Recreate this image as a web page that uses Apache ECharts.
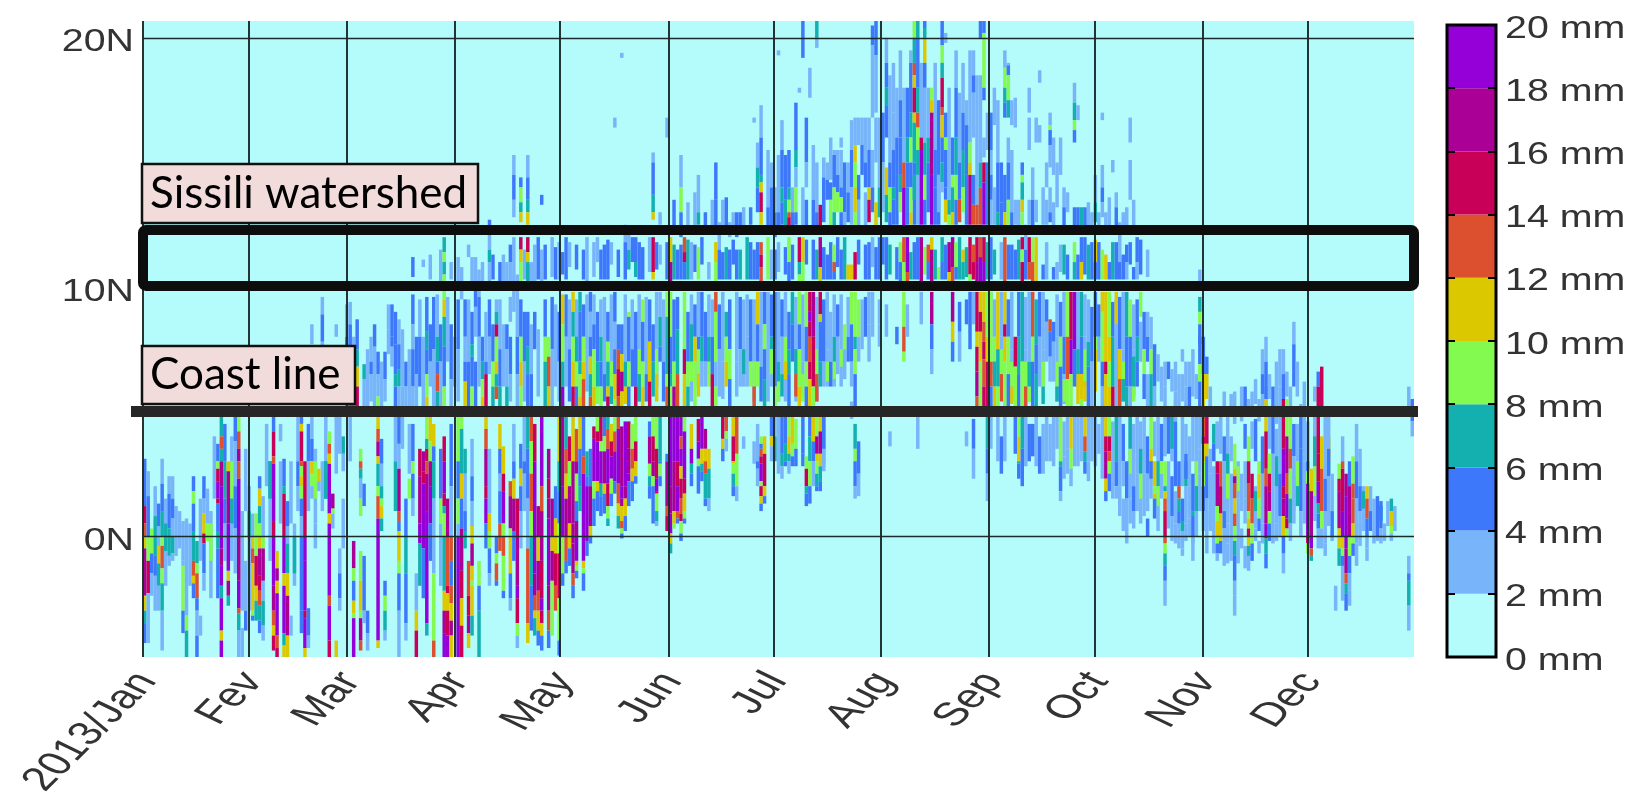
<!DOCTYPE html>
<html><head><meta charset="utf-8">
<script src="https://cdn.jsdelivr.net/npm/echarts@6/dist/echarts.min.js"></script>
<style>html,body{margin:0;padding:0;background:#fff}#c{width:1634px;height:806px}</style>
</head><body><div id="c"></div>
<script>
// Each column: [dayOfYear, topLat, mm, lat, mm, lat, ... , bottomLat]; mm is the band's mid value
const lightColsA=[
[6,1.5,3,-2],[9,1.2,3,-.8],[10,1,3,-.5],[13,.5,3,-2],[16,1.5,3,-1],[19,1,3,-2.5],[20,4,3,1.5],[25,4,3,-1],[28,1,3,-3],[29,3.5,3,1],[30,2,3,-3],[35,4.5,3,2],[36,3,5,1.5,3,-1],[39,3,3,.5],[42,3,3,.5],[43,.5,3,-2],[47,4.5,5,3,3,1],[49,3.5,3,.5,3,-.5],[51,3,3,1],[52,4.8,3,3,5,1.5],[56,4.8,3,3.3],[57,1.5,3,-.5],[59,4.8,3,3],
[60,8,3,6,5,5.2],[64,7.5,3,5.2],[66,8.5,5,7.6,3,5.2],[68,7,3,5.2],[72,4.8,3,3],[74,4.8,3,3.5],[75,7,5,6,3,5.2],[76,4.5,3,2.5],[78,8,5,6.5,3,5.2],[79,9.5,3,8,5,6],[80,8,3,5.2],[82,11.3,3,10.3],[83,9.6,5,7.5,3,5.2],[85,11.5,3,10.2],[85,8.5,5,7,3,5.2],[87,9.6,3,7],[88,11,3,10.3],[88,8.5,5,6.3,3,5.2],[89,8,3,6],[90,11.2,3,10.2],[90,9.5,5,7.5,3,5.4],[91,10.8,3,9.5],[93,9.5,3,7,5,5.2],[95,7,5,5.2],[96,10.7,3,9.6,5,8,3,6],[97,11,3,10.2],[99,9.5,5,8,3,6.5],[100,11.3,5,10.3],[102,9.5,3,7.5,5,6,7,5.2],[103,11.3,3,10.2],[103,8.5,3,6],[104,11,3,10.2],[105,8,5,6.5,3,5.4],[106,12,3,11,3,9],[107,10.5,3,8,5,6.5,3,5.2],[109,11.5,3,10.3],[109,9,5,7,3,5.4],[111,11,3,10.2],[111,8.5,3,6.5,5,5.2],[112,11.7,3,10.2],[112,9,5,7.5],[113,12,5,10.3],[113,8.3,3,5.6],[114,11.5,3,10.2],[117,12,3,10.4],[117,9.6,5,7.5,3,5.2],[118,11.6,5,10.3],[118,9.3,3,6],[119,11.8,3,10.3],[119,9,5,7,3,5.4]
];
const lightColsB=[
[121,12,5,10.3],[121,9.7,5,8,3,6],[122,11.8,3,10.8],[122,9.5,3,7.5,5,5.4],[124,11.7,5,10.7],[124,9.5,3,7,5,5.2],[126,11.5,5,10.3],[127,9.7,3,7.5,3,5.8],[130,12,3,11],[130,9,5,7,3,5.5],[132,11.7,5,10.3],[132,9.6,3,6.5,5,5.4],[134,11.8,3,10.9],[134,9.7,3,7,3,5.4],[138,9.7,3,7,3,5.4],[140,12,5,11],[140,9.5,3,7.5,5,6],[142,11.8,5,10.3],[142,9.7,3,7.5,3,5.4],[144,9.6,3,6.5,5,5.4],[147,11.8,5,10.7],[147,9.8,3,7.5,3,6],[148,13,3,12.5],[148,11.7,3,10.9],[149,9.5,3,7,5,5.4],
[150,11.8,5,10.3],[152,13.5,5,12.4],[152,11.7,7,10.3],[154,11.7,5,10.3],[156,13.4,3,12.4],[156,11.9,7,10.3],[157,9.7,3,7,3,5.4],[158,13.8,3,12.4],[158,11.7,5,10.6],[159,9.8,3,8,5,6],[160,12,5,10.9],[161,13,5,12.4],[162,9.7,3,8,3,6.5],[163,13.5,3,12.4],[166,13.5,3,12.4],[166,9.8,3,7,3,5.5],[167,13.6,5,12.4],[167,11.6,7,10.3],[169,13,3,12.4],[169,11.9,5,10.9],[170,9.8,3,7,3,5.6],[171,13,5,12.4],[171,11.5,7,10.3],[172,13.2,3,12.4],[172,9.5,3,7.5,3,6],[173,12,7,10.3],[173,9.7,3,8,3,6],[175,9.5,3,7,3,5.4],[177,9.8,3,6.8,5,5.4],
[179,15.5,3,13.2,5,12.4],[179,9.8,3,6.5,3,5.4],[180,9.7,5,8,3,6],[182,15.3,3,13,5,12.4],[182,11.8,3,10.6],[182,9.8,3,7,3,5.4],[184,15.3,5,13.5,7,12.4],[184,9.8,3,7,3,5.4],[186,14,3,13,5,12.4],[186,11.7,5,10.3],[187,9.6,3,7,3,5.4],[189,14,3,12.4],[189,9.7,3,7,3,5.6],[190,13.5,5,12.4],[190,11.9,5,10.9],[192,15.7,3,13.5,5,12.4],[192,11.9,5,10.3],[193,15,3,13,5,12.4],[193,9.6,3,7,3,5.4],[195,15.2,3,14.4,5,12.6],[195,4.8,3,2.6],[196,9.8,3,7.5,3,6],[197,16,3,14.3],[197,11.8,5,10.3],[198,15.5,3,14],[198,9.7,3,8,3,6],[199,12,5,10.8],[200,9.7,3,7,3,6],[200,15.5,3,14],[201,15,5,13,3,12.4],[202,15,3,13.8],[202,9.6,3,8,5,7],[203,16.7,3,15.5,5,14,3,12.5],[204,16.8,3,15.7],
[205,14.5,5,13.5,3,12.4],[205,11.9,5,10.9],[206,9.5,3,7.5],[207,13.8,3,12.4],[207,9.6,5,8],[208,9.8,3,8.5,3,7],[209,12,3,10.8],[209,9.8,3,8],[211,12,5,10.3],[211,9.5,3,8.5,3,7.6],[212,12,5,10.9],[213,20,3,19],[214,18.5,3,15],[215,19,3,17],[216,14.5,5,12.5],[217,19.5,3,17.5],[218,18,3,15],[219,14,5,12.5],[220,19.5,3,19],[221,14.5,5,12.5],[221,11.8,5,10.3],[222,14.5,3,12.5],[223,19,3,16],[224,18,3,15.8],[227,19,3,15.5],[228,14.5,5,12.5],[230,14,5,13.5],[230,11.7,5,10.3],[231,18,3,13.5],[234,17.8,3,15],[234,12,7,10.3],[235,19,3,17],[236,14.5,5,12.5],[236,4.2,3,3.6],[237,19.5,3,15.8],[238,9.8,3,8.5],[239,18.5,3,13.3],[240,18.5,3,15],[242,15,5,12.5],[242,11.8,7,10.3]
];
const lightColsC=[
[243,9.8,3,8],[243,4.8,3,3.5],[244,18,3,16.5],[244,9.5,3,8,3,6.5],[245,17.5,3,15],[245,4.8,3,3],[246,9.8,3,8,3,6],[247,4.8,3,3],[248,16,3,15],[248,11.7,5,10.3],[249,15.5,3,13,5,12.4],[249,9.8,3,7.5,3,5.4],[250,11.5,5,10.3],[250,4.8,5,3.3],[251,13.5,3,12.4],[251,11.9,7,10.3],[253,9.6,3,7.5,3,5.4],[253,4.8,3,2.8],[254,16.8,3,15.5],[254,13.5,3,12.5],[254,9.8,3,7,3,5.4],[255,14.8,3,13.5,5,12.4],[256,13.5,3,12.6],[256,4.8,3,2.8],[257,9.8,5,8,3,6],[258,9.8,3,7.5,3,6],[258,4.5,3,2.5],[259,15,3,14],[259,13.5,3,12.5],[259,4.8,3,3],[260,4.5,3,3],[261,16,3,14.5],[261,13.4,3,12.4],[261,4.8,3,2.8],[262,15,3,13.2],[262,9.7,3,8,3,6.5,3,5.4],[262,4.8,3,3.5],[263,11.7,3,10.6],[264,9.8,3,8,5,6.5,3,5.3],[264,4.6,3,3.2,3,2.3],[265,13.8,3,13],[265,4.8,3,3.5,3,2.5],[267,4.8,3,2.8],[268,13.2,5,12.4],[268,9.8,3,7.5,3,6],[268,4.8,3,2.8],[269,4.8,3,3],[270,9.7,3,8,3,6],[271,13.4,3,12.4],[271,4.8,3,3,3,2.2],[272,11.8,5,10.3],[272,4.8,3,3],
[273,4.8,3,2.8],[274,13,3,12.4],[274,4.5,3,3.3],[275,4.8,3,2.3],[276,13,3,12.4],[277,13.6,3,12.4],[278,11.8,7,10.3],[278,4.6,3,1.5],[279,9.5,3,7,3,5.2],[280,12.6,3,11,5,10.3],[280,4.8,3,2,3,.8],[281,9.8,3,7.5,3,5.4],[281,1.5,3,.2],[282,13.2,3,12.4],[283,11.8,5,10.9],[283,4.8,3,2.5,3,1.5,3,.5],[284,13.5,3,12.4],[284,9.3,3,7.5,3,5.6],[285,12,5,11,3,10.3],[285,4.8,3,2.5,3,1],[286,4.6,3,3,3,1.5,3,.5],[286,8.6,3,7],[287,4.8,3,2.5,3,.8],[288,11.5,3,10.4],[288,6.5,3,5.2],[289,3,3,1.5],[290,4.6,3,3.2],[291,4.8,3,2.5,3,.8,3,.2],[292,6.8,3,5.4],[293,7,3,6,3,5.2],[293,4.8,3,3.2],[294,3,3,1,3,.3],[295,4.8,3,3],[296,7,3,5.8,3,5.2],[296,1.8,3,.5,3,-.3],[297,.5,3,-.5],[298,6.5,3,5.4],[298,4.8,3,2],[299,7,3,6,3,5.2],[299,2,3,.5,3,-.2],[300,4,3,2,3,.7,3,0],[301,7.5,3,5.6],[301,-.1,3,-1],[302,4.8,3,2.8,3,1,3,0],[303,5.2,3,3.5,3,2.5,3,1],
[305,1,3,-.7],[306,5.5,3,4.8],[307,2.8,3,.8,3,-.7],[308,4.6,3,3.5],[309,4.8,3,3.3],[310,-.8,3,-1.2],[311,4.8,3,.5,3,-.3,3,-1.1],[312,2.5,3,.8,3,0,3,-1],[313,5.8,3,4.5],[314,3,3,1.5,3,0,3,-1.1],[315,2.5,3,1],[316,3,3,1.5,3,.5],[316,-.4,3,-1.3],[317,5.5,3,5],[317,-.8,3,-1.4],[318,4.6,3,3.5],[319,6.3,3,5.3],[319,2,3,.3,3,-.2],[320,5.5,3,4.6],[320,-.2,3,-.7],[321,.5,3,-.3],[322,6,3,4.8],[323,6.5,3,5.5],[323,4.8,3,3.5],[325,4.3,3,2.5,3,.5,3,-.2],[326,4.8,3,2.5],[327,-.7,3,-1.5],[328,6.6,3,5.6],[329,6,3,4.8],[330,2.4,3,1],[331,4.5,3,3,3,1.5],[332,5.3,3,4.8],[333,4.8,3,3,3,.5],[334,4.6,3,3],[336,5,3,.6],[337,.3,3,-.5],[339,-.3,3,-.8],[340,2.4,3,.4],[341,.2,3,-.2],[344,-1.2,3,-2.6],[346,-2.2,3,-2.8],[348,-.3,3,-1.2],[349,.5,3,-.4],[350,2,3,1,3,.2],[351,-.5,3,-1],[352,2,3,1],[353,0,3,-.3],[355,-.2,3,-.3],[357,1.4,3,.4],[359,1.2,3,.2]
];
const tealCols=[
[157,8.5,7,7,9,6.2],[159,7.5,9,6.5,11,5.6],[162,8,7,7,9,6],[167,9,7,8,9,7,11,6],[172,7.5,7,6.5],[175,7,9,6,13,5.2],[180,8,7,7.5,9,6.5],[182,7,7,6.2,9,5.4],[184,8,9,7,11,6.3],[187,7.5,7,6.5,13,5.6],[189,6.5,9,5.4],[193,7.5,9,6.5,13,5.4],[196,7,9,6.2],[198,8,7,7,9,6.3],[200,7.5,9,6.8],[244,8,9,7,7,6,11,5.2],[246,7.5,9,6.5,13,5.4],[249,7,9,6,11,5.3],[253,7,9,6,13,5.2],[254,7,7,6,9,5.4],[258,7,9,6,7,5.3],[262,7,9,6,7,5.4],[264,6.3,9,5.4],[268,7.5,7,6.5,11,5.3],[270,7.5,9,6.2,11,5.4],[281,7,9,6.3,7,5.4],[284,7.2,7,6,9,5.4],[110,10.9,7,10.3],[124,8,7,7,9,6],[130,7,7,6,9,5.3],[134,7,9,6,7,5.3],[138,7,7,6,11,5.3],[142,7.5,9,6.5,7,5.4],[147,7.5,9,6.5,11,5.4],
[283,4.8,7,3.5,9,2.5],[286,3.5,7,2.5,9,1.5],[291,3,7,2,9,1.2],[295,4.8,7,3.5],[299,3,7,2],[302,3,9,2,7,1],[311,3.3,7,2.5,9,1.5],[314,2.8,9,1.8],[319,1.8,7,1],[325,3.2,7,2],[331,3,9,2,7,1.2],[336,4,7,2.8,9,1.6],[340,4,11,3,9,2.5],[350,1.8,7,1.1],[355,1.2,7,.6],
[6,.5,7,-.6],[19,.5,9,-1],[25,3,9,1.5,7,.5],[30,1,7,0],[36,3,7,1.5],[43,0,7,-1.5],[49,3,9,1.5],[52,3,7,1.5],[72,3,7,1],[76,2.3,9,1.5]
];
const janCols=[
[0,3.1,5,1.2,15,.5,13,0,11,-.5,17,-2.4,11,-3,7,-3.5,5,-4.3],[1,2.6,3,1.6,5,0,9,-1,15,-2.3,3,-4.3],
[2,.3,9,-.7,5,-1.5,3,-2.4],[3,2,3,.8,7,-.8,5,-1.6,3,-3],[4,1.3,5,.4,3,-.4,11,-1.1,7,-2,3,-3],
[5,3.1,3,2.1,5,1,7,0,9,-.4,13,-1.3,9,-1.9,7,-3,3,-4.6],[7,2.4,3,1.7,5,.3,7,-.8,3,-1.2],[8,2.4,3,1.5,5,.7,3,0,7,-.7,3,-1],
[11,.6,3,-1,3,-1.2,9,-3,5,-3.9],[12,.7,3,-3.2,9,-3.8,7,-4.87],[14,2.4,5,1.8,9,1.3,5,.2,7,-1,13,-1.6,11,-1.9,5,-2.5],
[15,-.2,7,-1.1,9,-1.5,13,-2.5,5,-3,3,-4,5,-4.87],[16,-3.2,3,-4],[17,2.4,5,1.5,3,.9,11,.1,15,-.3,5,-1.5,3,-2.2],[18,1.9,3,.5,9,-.2],
[21,3.7,5,3,9,2.7,15,2.2,19,1.5,15,1.3,5,.2,7,-.5,5,-2.5],[22,4.8,7,4,13,3.5,7,3,17,2,19,-.5,17,-1.2,19,-2,7,-2.5,19,-3.8,11,-4.2,19,-4.87],
[23,4.5,5,3,7,1.5,5,.5,3,-1],[24,3,11,2.6,17,.5,19,-1.4,11,-1.8,17,-2.4,7,-2.8],[26,4.8,5,3.8,3,2,5,.3,3,-1.5],
[27,4.8,9,4.2,13,3.5,17,3,13,2.3,19,0,17,-1.8,19,-2.9,13,-3.1,7,-3.8,3,-4.87],[28,-3.7,3,-4.87],[29,-1,3,-3,5,-3.8]
];
const febCols=[
[31,.9,3,0,11,-.5,13,-1.1,11,-3,9,-3.2,5,-3.4],[32,.9,9,.2,9,-.8,15,-2,11,-2.6,7,-3.4],[33,2.4,5,1.9,11,1.2,7,.5,9,0,11,-.5,17,-1.6,15,-2.2,13,-2.8,7,-3.4,5,-3.9],
[34,1.6,3,0,9,-.5,17,-1.8,3,-2.6,7,-3.6,3,-4.2],[37,4.8,5,4.2,15,3.2,13,2.9,19,.6,15,0,19,-2,17,-3,13,-3.6,11,-4,15,-4.6],
[38,-.6,11,-1.3,17,-1.8,11,-2.3,19,-4,13,-4.5,15,-4.87],[39,4.5,3,3.8],[40,3.1,5,2,7,1.7,15,0,19,-1.5,11,-2,19,-3.9,7,-4.4,11,-4.87],
[41,1.4,5,.4,3,-.3,7,-1.5,11,-2.4,17,-4,11,-4.87],[42,-3.2,3,-4],[44,4.8,3,3,5,2,3,1],[45,4.8,5,4.5,11,4.2,15,3,13,2.8,9,2.4,11,2,9,1.5,5,.8,3,0,5,-3,5,-3.9],
[46,3,15,0,19,-1,19,-3,15,-3.3,19,-4.5,11,-4.87],[47,-2.9,5,-4,3,-4.5],[48,4.8,3,3.9,5,3,11,2.5,9,2,3,1.5],[50,2.7,11,2.2,3,1.8],
[51,9.6,3,8.9,5,7.8,3,7.4],[48,8.5,3,7.7],[53,4.2,9,3.7,13,3.3,11,2.9,19,.9,11,.5,19,-2.4,13,-2.8,19,-4.2,15,-4.87],
[54,1.7,17,1.1,9,.9,3,.3],[55,-4.2,11,-4.87],[55,8.5,3,8],[56,-.5,3,-1.5,5,-2.5,3,-3],[57,4,7,3.3,3,2.6],[55,4.8,3,2.5],[58,9.3,3,8,5,6,3,5.2]
];
const marCols=[
[59,9.4,3,8.5,5,7.3,7,6.5,5,5.2],[60,-.2,17,-1.3,9,-1.8,5,-2.6,11,-3.1,9,-3.3,19,-4.87],[61,8.7,5,7.5,7,6.8,11,6,15,5.2],[62,3.5,9,3,13,2.7,7,2.3,3,1.5,9,.8],
[62,-.6,9,-1.8,11,-3,9,-3.3,17,-4.2,13,-4.6],[63,6.9,7,6.3,3,5.2],[63,2.1,5,1.2],[63,-.8,5,-3,3,-3.5],[64,-3,5,-3.9,3,-4.6],[65,8,3,7,5,6.5,3,5.4],
[67,4.8,11,4.3,13,3.8,17,3.2,11,2.9,7,2,9,1.6,13,.7,19,0,19,-4.2,11,-4.5],[67,7.4,5,6.5,3,5.6,9,5.2],[68,3.9,5,2.9,3,2,7,1.5,9,1.2,11,.7,7,.2],[69,-1.8,5,-2.4,9,-3,7,-3.8,3,-4.2],[69,7.4,5,6.3,3,5.4],
[70,9.3,3,8.3,3,7.3],[71,9.3,5,8,5,7.6,3,6.8],[72,9,5,7.7,5,6.5,7,6,5,5.2],[73,4.8,5,3.7,3,2.7,17,1,13,.6,5,.2,11,-1,9,-1.5,5,-3,3,-4.87],[73,8.7,3,7.7,5,6.7,7,6,3,5.2],[74,8.3,3,6,3,5.2],
[75,1.5,5,0,7,-1.5,5,-3.5,3,-4.2],[76,7.5,3,6.5,3,5.2],[77,11.2,5,10.4],[77,9.7,5,8.5,3,7.5,5,6,3,5.2],[77,4.5,5,3,9,2.5,5,1.5,3,.8],[78,-1.5,3,-3,11,-3.8,15,-4.87],[79,3.5,15,2.4,17,.5,19,-.3,7,-2],
[80,11.1,3,10.8],[80,3.4,17,2.6,15,2.1,19,0,19,-.5,5,-2.5],[81,9.6,5,8.2,7,7.5,5,6.5,9,5.6,11,5.2],[81,4.8,9,3.9,7,3.5,15,3,13,2.5,17,1,19,-3.5,7,-4],[82,4.8,11,3.8,9,3,17,2,19,.5,5,-1],[82,8.5,5,7,3,6],
[83,4.5,11,3.6,5,3,7,1.5,3,-1.5,9,-4.2,13,-4.87],[84,9.7,3,8,7,7,5,6.5,13,5.8,7,5.2],[85,3.5,5,1.5,9,.5,3,-2],[86,12,7,11.4,9,11,7,10.5,9,9.5,11,8.8,7,7.6,5,6,9,5.2],
[86,4,15,3,19,1.7,15,1.2,7,.9,9,0,7,-2.2,11,-3,17,-3.9,19,-4.87],[87,1.5,17,0,13,-2,15,-2.3,11,-3,15,-4,19,-4.87],[88,4.5,5,2,3,0,13,-1,5,-2,13,-2.7,11,-3.4,17,-4,11,-4.87]
];
const aprCols=[
[90,4.8,9,3,5,1.5,9,.5,3,0,19,-4.87],[91,4.8,9,4.3,7,2.5,11,1.5,5,.3,17,-1.4,15,-2.5,11,-3.6,15,-4.87],[92,9.5,5,8,3,7,5,6.2,11,5.2],[92,3.5,7,2.5,3,1,5,.2,7,-.5],
[93,11.7,3,11.2],[93,-1,13,-2.4,15,-3.2,17,-3.9,11,-4.5],[94,11.2,3,10.2],[94,9,5,7.7,7,7.2,5,6,9,5.2],[94,3.9,3,2.4,5,1.4,3,.4,11,-.3,17,-1.2,11,-1.8,9,-2,11,-3.2,7,-4],
[95,11.2,3,10.2,5,9.2,3,8],[96,-1,9,-2,5,-3,7,-4.87],[97,8,5,7,7,6.3,9,5.6,11,5.2],[98,9,3,7,5,6.5,15,5.2],[98,4.8,11,4.3,13,3.5,17,2,15,1.5,19,.5,5,-.5],[99,12.7,5,12.2,3,11.5,7,11,3,10.2],[99,3.5,3,.9,11,.2,9,-.5,5,-1.5,3,-2],
[100,8.5,5,7,9,6,7,5.2],[101,9.5,3,9,7,8.5,15,8,9,7,11,6.5,7,6,13,5.5],[101,0,5,-.7,9,-1.1,13,-1.8,5,-2],[102,11,5,10.2],[102,4.5,11,3.5,5,2.5,3,1.8,5,.5,13,-.6],
[103,3.6,11,2.5,15,1.8,19,.5,9,0,13,-.8,9,-2.2,5,-2.5],[104,8.5,5,7.5,3,6,7,5.2],[105,11.7,5,11,3,10.2],[105,9.6,3,8.6],[105,2.2,13,1.6,17,.3,9,0,11,-1.5,5,-2.5,3,-3],[106,15.3,3,14.5,5,13.5,3,12.8],[106,4.5,3,3,5,2.3,11,1.5,17,.2,5,-1],
[107,1.5,15,0,17,-2,19,-2.5,15,-3.5,9,-4,3,-4.5],[108,14.4,5,14,9,13.4,7,13,11,12.6],[108,12,15,11.5,11,11,9,10.2],[108,9.5,5,8,9,7,11,6,9,5.2],[108,3.7,5,2.7,11,2,5,1,3,-.5],[109,5,3,3,5,2.5,3,1],
[110,15.3,3,14.4,5,13.5,7,13,11,12.5],[110,12,15,11.4,11,11,7,10.2],[110,9,5,7.6,7,6.5,5,5.2],[110,4.8,7,3.5,5,1.5,3,-.5,13,-3.5,11,-4.3],[111,4.8,13,3.8,9,2.5,13,1,9,0,7,-2,5,-3.8],
[112,4.5,15,3,19,0,19,-1.5,17,-2.4,13,-3,11,-3.3,7,-4],[113,1.2,17,0,11,-1,17,-2.2,13,-3,11,-3.8,5,-4.4],[114,13.7,5,13.3],[114,4.8,19,2,13,1,17,-1,15,-2.5,19,-3,15,-3.5,11,-4,5,-4.6],[115,11.7,5,10.3],[115,9.5,5,8,9,7,7,5.2],
[116,8,9,7.2,13,6,11,5.2],[116,3.5,17,2.3,15,1.5,17,.7,19,-2,17,-3,13,-3.8,5,-4.5],[117,1.5,17,0,11,-.6,17,-1.8,9,-3,9,-4],[118,2,5,.7,11,-.7,15,-2,13,-3],[119,4.8,11,3,7,1.8,5,.5,9,-.7,15,-2.5,9,-4.2,5,-4.8]
];
const mayCols=[
[120,11.4,5,10.5],[120,9.7,11,8.5,9,7,7,6,19,5.2],[120,4.8,17,2,19,0,9,-1.5,5,-2],[121,4.8,7,3.5,13,2.5,11,1.5,17,0,13,-1,5,-1.5],[122,4,15,3,9,2,17,.5,11,-.5,5,-1.2],
[123,9.8,11,9,7,8,9,7,11,6,15,5.2],[123,4.8,11,3,17,.5,17,-.3,17,-1.5,13,-2,5,-2.5],[124,4.3,13,3,17,2.5,9,1.4,5,.6,17,0,19,-1,11,-1.2,9,-1.4,5,-1.7],[125,9.8,7,9,5,7,7,6.5,9,5.6,11,5.2],[125,4.8,11,3.5,5,2,7,1],
[126,9.3,5,8,9,7,11,6.3,13,5.2],[126,4.8,5,3.2,13,2.5,19,-1,11,-1.3,9,-1.5,5,-2.2],[127,3.4,7,2.4,5,2,19,-.2,5,-.8],[127,12,3,10.2],[128,9.8,5,9,3,8,5,7.2,11,6.5,7,5.6,13,5.2],[128,3.5,5,2,17,.4,11,0,5,-.3],
[129,9.7,3,8.5,5,7.5,9,6,11,5.2],[129,11.8,3,10.4],[129,4.4,15,3.9,19,2.2,9,1.5,5,.4],[130,4.8,9,4.2,15,3.8,19,2.2,11,1.8,5,1],[131,9.5,3,8,7,7,5,6,9,5.2],[131,11.5,5,10.3],[131,4.8,15,3.8,9,3.4,19,2.1,7,1.6,5,.8],
[132,4.8,5,4,9,3.4,17,2.1,11,1.7,5,.9],[133,9,5,7.8,9,7,7,6,11,5.6,15,5.2],[133,11.9,5,10.3],[133,4.8,7,4.3,13,3.5,19,2.1,15,1.2,9,.7,7,.4],[134,4.5,11,3.8,15,3.2,19,2.3,9,1.7,5,1.2],[135,9.8,5,8.6,3,7.5,5,6.5,11,5.5,9,5.2],[135,16.8,3,16.4],
[135,4.8,9,4.2,13,3.4,19,2.2,5,1.7],[136,8.5,5,7.5,13,6.7,15,5.6,13,5.2],[136,11.5,5,10.4],[136,4.8,13,4.3,19,2.1,13,1.3,11,.8,7,.3],[137,8.5,5,7.3,11,6.6,17,5.8,11,5.2],[137,19.4,3,19.2],[137,4.4,17,2,19,1.5,17,1.2,11,.6,13,.3,9,.1,5,-.1],
[138,12.5,3,11.8,5,10.3],[138,4.6,19,2,17,1.5,11,.8,5,.2],[139,9,9,8.8,5,7,9,6,5,5.2],[139,12.4,3,11.5,7,10.7],[139,4.6,15,3.5,17,2.5,19,2.2,5,1.2],[140,4.5,9,3.5,13,2.7,11,2.2,5,1.4],[141,9,5,6,15,5.2],[141,12,5,11,7,10.4],[141,4.8,9,3.8,15,3,11,2.4,5,2.1],
[143,9.5,9,8.6,5,7,9,6,11,5.2],[143,11.6,5,10.3],[145,9.5,5,7.8,11,6.2,15,5.2],[145,12,3,10.6],[145,4.6,5,4,17,2.9,9,2.4,7,2,5,1.5],[146,15.4,3,15,5,13.7,7,13,11,12.7],[146,12,15,10.6,11,10.3],[146,8.5,5,7,7,5.6],[146,4.8,9,4,15,3,17,2.4,9,2,5,.5],
[147,4.8,9,3.5,15,2.3,19,1.8,15,1.7,9,1,7,.6,3,.4],[148,9.8,3,8.8,7,7.6,5,7],[148,4.8,7,3,5,2.9,9,2.4,5,2],[150,9.8,9,8.8,7,6.5,9,6,13,5.2],[150,16.8,3,16],[150,3.3,5,3,17,1.2,13,.8,15,.2]
];
const junCols=[
[151,12,11,11,17,10.2],[151,9.8,9,8,5,6.5,7,6,9,5.2],[151,4.8,19,2,17,.9,19,.1,11,-.3,7,-.7],[152,4.8,19,3,17,1,11,.5,9,.3],[152,9.5,5,7,9,6,17,5.2],[153,4.8,19,3,15,2,19,1,13,.7,5,.5],[153,11.5,5,10.3],[153,9.6,5,8.3,7,6.5,13,5.2],
[154,15.3,3,14,9,13,5,12],[154,4.8,19,4,13,3.5,19,2.8,11,2.3,15,1.5,13,.9,15,.6,9,.1,5,-.2],[155,12,13,11.4,15,11,5,10.3],[155,9.8,9,7.5,15,6.5,11,5.2],[155,4.8,9,4.2,19,2.3,15,1.7,11,1,9,.7,5,.5],[156,9,5,7,9,6,7,5.2],
[157,4.5,11,3.5,19,2.9,7,2.5,5,2],[157,11.8,3,10.3],[158,9.3,5,8,11,7,9,5.2],[159,14.5,3,13,7,12.5],[159,11.6,9,10.3],[159,4.7,15,3.8,19,3.1,9,2.8,5,1.7],[160,4.8,19,3.5,11,2.9,7,2.6,5,2.2],[160,9.8,5,8,7,7,3,6],[161,4.3,17,3.5,11,3,13,2.5,7,1.5,5,1.2],[161,9,5,7,3,6],
[162,3.5,11,2.7,7,1.5,3,1],[162,11,3,10.3],[163,9.5,3,8,5,6.5,15,5.2],[164,15,5,13.5,5,12.4],[164,11.8,11,11,9,10.2],[164,9.8,13,9,9,7,3,6,9,5.2],[165,12.6,3,11.5,5,10.3],[165,9.3,5,7.5,3,5.6],[166,4.8,15,3.9,11,3.5,5,3],[166,11.4,5,10.3],[167,4.8,13,4.2,9,3.9,3,3.4],
[168,12.6,3,12],[168,11.5,5,10.3],[168,9.5,5,7.5,9,6.3,5,5.2],[169,4.8,11,4,15,3,11,2.9,9,2.5,7,2,5,1.6],[170,13,5,12],[170,11.5,5,10.3],[170,4.8,13,3.3,9,2,3,1.4],[171,9.6,5,7.5,3,6],[172,4,3,3.5],[174,13.2,5,12.5],[174,11.8,5,10.3],[174,9.5,5,7,9,6],[175,16.8,3,16.6],[175,3.8,3,2.9],[175,11.5,5,10.3],
[176,15.8,3,14.8,7,14,5,13],[176,11.8,5,10.3],[176,4.5,3,3,5,2.7,3,2],[176,9.8,11,8.5,5,7,9,6],[177,17.3,3,16,5,14.5,7,14.2,11,13.8,15,13,11,12.5],[177,11.8,13,11.3,15,10.8,13,10.2],[177,4,9,3.7,5,3.5,13,3.2,15,2.9,19,2.2,9,2,15,1.6,11,1.3,5,1],[178,4,11,3.3,15,2,11,1.6,5,1.3],
[178,9.8,5,8.5,9,7.5,5,6.3,7,5.2],[179,12,9,10.3],[180,15,3,14,5,12.4],[180,11.5,3,10.3],[180,4.8,5,4,11,3.6,3,3]
];
const julCols=[
[181,14,3,13,5,12],[181,11.5,5,10.3],[181,4.8,3,4,7,3],[181,9.8,5,7.5,5,6,9,5.2],[182,19.5,3,19.3],[182,4.8,3,2.5],[183,16.7,3,15.5,5,14,7,13.4,5,12.5],[183,9.5,5,8,3,6.5,7,5.6],[183,4.8,5,3.3,7,2.8,3,2.3],
[184,11.6,5,10.5],[184,4.8,5,3.7,7,3,5,2.8],[185,15.5,5,14,7,13.5,9,13,13,12.8,15,12.4],[185,12,9,11,5,10.2],[185,9,5,7.5,7,6.5,5,5.2],[185,4.8,9,4,11,3.3,7,3,3,2.5],[186,4.8,11,3.7,9,3.2,5,2.8],[186,9.8,7,8.5,5,7],
[187,17.4,5,15.5,7,14.8,3,14,9,13,5,12.5],[187,4.7,9,3.5,5,2.8],[188,18,3,17.8],[188,12,15,11,7,10.5,9,10.2],[188,9.8,9,8.5,5,7.5,9,6,11,5.2],[189,20.7,5,19.2],[189,12,11,11,9,10.2],[189,4.8,5,3.3,5,2.8],[190,16.8,5,15,3,14],[190,3.2,9,2.7,15,2,7,1.7,5,1.2],
[190,9.8,9,8.4,5,7,9,6,5,5.2],[191,18.8,3,17.6],[191,9.8,15,9,19,8.6,15,8,13,7,15,6.3,11,5.2],[191,4.8,5,4,7,3,9,2,5,1.3],[192,9.8,17,8,15,6,9,5.2],[192,4.8,11,3.8,5,3,3,2],[193,20.7,7,20,3,19.6],[193,4.8,9,4,17,3.3,11,3,9,2.5,7,2,5,1.8],[193,11.5,7,10.3],
[194,13.3,15,12.4],[194,12,17,10.8,11,10.2],[194,9.8,15,8.9,11,8.6,5,7,7,6],[194,4.8,11,4.2,17,3.3,11,2.8,7,2.2,5,1.8],[195,4.8,5,3.5,3,2.8],[195,11.6,5,10.3],[195,9.5,5,7,3,6],[196,15,3,14.3,5,13.5],[196,11.3,5,10.3],[197,9,3,7,5,6],[197,14.2,5,13.5,9,12.4],
[198,15.3,5,14,9,13,7,12.4],[198,11.7,9,11,13,10.6,5,10.3],[199,15.5,3,14.5,5,13.8,9,13],[199,9.3,5,8,3,6.5],[200,16,3,15.6],[200,14,5,13.6,9,13,5,12.4],[200,11.5,5,10.3],[201,12,7,11,7,10.3],[201,8.5,9,7.5,3,6.3],[202,13.8,5,12.6],[202,10.9,11,10.3],[203,10.9,11,10.3],[203,5.4,3,4.7],[203,9.8,9,8.5,5,7,3,6],
[204,15.7,11,15,9,14,11,13,9,12.4],[204,11.4,15,10.3],[204,9.8,9,8,7,7.5,9,6.5,5,5.2],[204,4.5,7,3.5,9,3,5,2,3,1.5],[205,16.8,3,15.7],[205,9.5,9,8,3,7],[205,3.8,5,2.5,3,1.6],[206,16.8,3,15.7,5,14.5],[207,16.8,3,15,5,14],[207,11.7,5,10.3],[208,15.5,5,14,11,13.5,15,12.6],[208,16.8,3,15.5],
[208,11.8,5,10.3],[209,20.5,5,19.7,3,16.8],[209,15.5,3,14,5,13],[210,20.7,5,19.3,3,17],[210,16.8,3,15],[210,13.4,11,12.4],[210,11.6,5,10.3],[211,16.8,3,14,7,12.8],[212,17,5,15,3,13]
];
const augCols=[
[213,19,5,18,7,17.3,5,16],[213,14.8,11,13.7,7,12.6],[213,12,5,10.3],[213,9.3,3,8],[214,15,5,14,9,13,5,12.4],[214,11.7,7,10.5],[214,4.2,3,3.6],[215,17,3,15.5,5,14,7,13.5,5,12.5],[216,18,3,16,5,14.5],[216,11.6,5,10.3],[216,8.4,5,7.7],
[217,17.5,5,16,5,14.5,7,13.8,9,13],[217,11.8,9,11,5,10.2],[218,15,13,14,19,12.4],[218,12,13,11,9,10.2],[218,9.8,9,8.4,13,7.4,9,7],[219,18,5,16,7,15,5,14],[219,12,19,10.6,13,10.2],[219,9.3,3,8],[220,19,5,17,7,16,9,15,5,14,9,13,11,12.5],[220,11.4,7,10.3],
[221,20.7,9,20,7,19,13,18.5,11,18,15,17,11,16.6,7,15,5,14.5,7,13.5],[222,20.7,7,20,5,18,7,17,13,16.4,9,15.5,7,14.5],[222,12,5,10.3],[222,5,3,3.5],[223,16,15,15.5,19,12.5],[223,12,17,10.2],[223,9.8,3,8.5],[224,20.7,5,20.4,7,20,11,19,5,18],[224,15.8,7,14.5,9,13.5,5,12.5],
[224,11.6,9,10.5],[225,18,3,16,7,15,5,13],[225,11.7,13,11,5,10.3],[226,18,9,17.5,11,17,17,14.5,19,12.5],[226,12,11,11.5,17,10.2],[226,9.8,17,8.5,5,7.5,3,6.5],[227,15.5,5,14,5,12.5],[227,11.5,7,10.3],[228,17.5,5,15.5,5,14.5,3,13],[228,10.8,9,10.3],
[229,20.7,5,19.7,9,19,7,18.4,15,17.2,13,16.9,11,16,5,15,7,14.2,3,13.8],[229,12,7,11,5,10.3],[230,20.2,3,19.8],[230,17,5,16,9,15.5,5,14],[230,13.5,11,12.6],[231,13.5,7,12.9,9,12.5],[231,11.8,17,10.6,11,10.2],[232,16,5,14.5,9,14,7,13,11,12.5],[232,12,17,10.8,13,10.2],[232,9.8,17,8.6,11,7.8,5,7],
[233,19.5,3,18,5,16,7,14.5,9,13.5,5,12.5],[233,11.8,9,10.8,5,10.3],[234,15,5,13.5,13,12.6],[234,9.4,5,8.2,3,7],[235,17,5,15.5,7,14,9,13],[235,11.5,11,11,7,10.3],[236,17.5,3,16.5,5,14.5],[236,9.5,5,8.5],[236,11.6,7,10.4],[237,15.8,9,15,11,14.5,17,12.5],[237,12,15,10.5,9,10.2],[237,9.8,5,7.5],
[238,19.5,3,18.5,5,17.8,3,16],[238,14.5,5,13.3,13,12.5],[238,11.7,13,11,15,10.3],[238,4.7,5,3.5,3,2.3],[239,13.3,13,12.5],[239,12,15,11,17,10.2],[239,9.8,15,8.2,11,7.6,15,6.6,17,5.6,13,5.2],[240,20.7,5,20],[240,15,7,14,13,12.5],[240,12,13,11.2,19,10.2],[240,9.8,11,9,15,8.2,11,7,9,5.2],
[241,20.7,5,20.2,9,18,5,17.5],[241,16,3,15.5,3,15.2],[241,15,15,14.2,19,12.5],[241,12,15,11,19,10.2],[241,9.8,11,8.6,13,7.8,15,7.1,13,6,15,5.2],[242,17,3,15.5],[242,9.8,9,8,11,7,15,5.2],[242,4.8,7,3.5,5,2.5,3,1.4]
];
const sepCols=[
[243,17,5,15.5,3,14.5,5,13.5,3,12.5],[243,12,5,10.3],[243,9.8,9,7,13,6,5,5.2],[244,14,3,12.5],[244,11.5,7,10.5],[245,15,5,13,7,12.4],[245,9.8,11,7.5,7,6,9,5.2],[246,15,5,13.4,5,12.4],[246,11.8,3,10.3],[246,4,5,2.5],
[247,19.5,3,18.8,9,18,7,17.4,5,16.8],[247,14.5,5,13,11,12.4],[247,12,13,10.2],[247,9.8,11,8.5,15,8,11,7,9,5.2],[248,19,3,18.9,5,18.5,9,17.5,7,16.8],[248,15,5,13.5,9,12.5],[248,9.5,5,8,9,6.5,5,5.2],[249,17.5,3,16.5],[249,11.7,5,10.3],
[250,17.6,3,16.4],[250,13.5,3,12.5],[250,8,15,6.8,9,5.2],[251,4.8,9,4,11,3,7,2.9,5,2.3],[251,9.8,5,8,7,6.5,5,5.2],[252,15,5,14.5,9,14.2,7,13.5,11,13,9,12.5],[252,12,15,11.5,9,11,15,10.2],[252,9.8,7,7,9,5.2],[252,4.8,7,3.5,5,2],
[253,12.5,3,11.5,5,10.3],[254,18,3,17],[254,12,15,11,13,10.3],[254,4.5,5,3],[255,12,9,11,13,10.2],[255,9.8,13,8,9,7,5,5.2],[255,4.5,5,3.2],[256,16.8,3,15.8],[256,12,11,10.2],[256,9.5,7,7.7,5,6.5,7,5.2],[257,18.7,3,18.2],[257,16.5,3,15.8],[257,4,5,2.5],
[258,14,3,12.5],[258,10.9,5,10.3],[259,11.8,3,10.3],[259,9.5,5,8.6,3,7],[260,17,3,16.5,9,16.3,5,15.7,3,14.8],[260,14,3,13,5,12.6],[260,8.7,13,8.2,5,7.2,3,6.2],[261,10.8,5,10.3],[261,8.6,5,7.8,3,6.2],[262,11,3,10.3],[263,16,3,14.5],[263,4.8,9,3,7,2.8,5,1.8,3,1.4],[263,9.4,5,8,9,6.8,5,5.2],
[264,14,3,13.2,5,12.4],[264,11.7,7,10.5],[265,9.8,9,8,13,6.3,9,5.2],[265,11.3,5,10.3],[266,9.8,15,7.9,19,6.5,9,5.2],[266,4.8,11,3.5,9,2.7,3,2],[267,18.2,3,17.4,7,16.7,9,16.3,5,15.8],[267,13.2,5,12.4],[267,11.8,9,11,7,10.3],[267,9.8,19,7.5,5,6],
[268,17.3,3,16.7],[268,11.3,5,10.3],[269,13.2,7,12.4],[269,12,5,11,11,10.3],[269,9.8,7,8,5,6.5,11,5.5,9,5.2],[270,13.2,5,12.4],[270,12,5,10.5],[270,4.8,11,4,13,3.4,7,3,5,2.5],[271,11.7,7,10.3],[271,9.5,3,7.8,7,6.8,5,5.2],[272,13,3,12.4],[272,9.2,5,7,3,5.2]
];
const octCols=[
[273,14.5,3,13.4,7,12.6],[273,11.9,11,11,5,10.3],[273,9.8,5,8,9,7.5,11,5.8],[274,11.8,5,10.3],[274,9.3,5,8,3,7],[275,17,3,16.7],[275,14.9,3,14,5,13.4,3,12.8],[275,11.5,9,10.3],[275,9.8,11,9,9,7,5,6,3,5.2],
[276,9.8,11,7,15,6.5,11,5.2],[276,11.3,11,10.3],[276,4.8,11,4,15,3.4,17,2.3,11,1.8,5,1.4],[277,11,5,10.3],[277,9.8,9,8,11,7,9,6,11,5.2],[277,4.8,9,4,15,3.4,13,3,9,2.5,5,1.8],[278,15.1,3,14.6],[278,9.4,5,8,7,6,15,5.2],[279,13.8,3,13.2,5,12.4],[279,11.8,5,10.3],[279,9.8,11,8.5,3,7],[279,4.8,7,3,5,2,3,1.5],
[280,9.6,5,7.5,11,6.3,13,5.2],[281,13,3,12.4],[281,11.3,5,10.3],[281,4.5,5,3,3,2],[282,9.8,7,8,5,6,7,5.2],[282,11.7,5,11,3,10.3],[282,3,5,1.5,3,0,3,-.3],[283,16.8,3,15.8],[283,15.1,3,13.5],[283,9.5,9,8,5,6,3,5.2],[284,4.5,3,2,5,1,3,.3],[284,10.8,5,10.3],
[285,9.5,5,8,7,7,5,6],[286,11.9,5,10.5],[286,9.8,9,8.8],[287,9,5,7.5,9,6.5,5,5.5],[288,9,3,8,5,7],[288,.7,5,0],[288,4,5,2.5,3,1],[289,8.8,3,7.5,9,6.5,7,5.2],[289,4.8,9,3.5,11,3,5,2.3],[290,3,11,2,9,1.7,11,1.5,5,.7],[290,7.7,5,6,3,5.2],[291,7.3,3,6.2],
[292,4.5,5,3,9,2.5,3,1.5],[293,3,9,2,7,1.8,11,1.5,13,1,15,0,13,-.3,9,-.7,7,-1.2,5,-1.8,3,-2.8],[294,7,5,6.3],[294,4.8,5,3.3],[295,6.7,3,5.8],[295,2.4,5,.8,3,-.2],[296,5.5,3,4.6,5,2],[297,6.5,3,5.2],[297,3,5,2,13,1.5,7,1,5,.5],[298,1.5,5,.6,7,.2,3,-.5,3,-.8],[298,7.5,3,7],
[299,4.5,3,3.3,5,2.3],[300,7,3,6,5,5.2],[301,2.5,5,1,7,.8,5,0,3,-.3],[301,4.8,3,3],[302,6.5,3,5.5],[303,8,5,6.9,9,6.2,5,5.2],[303,10.7,3,10.2],[303,9.6,7,9,9,8.5,5,7.7]
];
const novCols=[
[304,8,5,6.5,11,5.8,11,5.2],[304,4.8,13,4,15,3.7,11,3,9,2,5,1,3,.2],[305,7.2,5,6.5,11,5.5],[305,4.8,15,3.7,11,3.2,5,1.5,3,.4],[306,6,3,5.2],[306,3.5,3,2.5,3,.2],[307,4.5,7,3.7,5,3],[308,3,15,2.5,17,1.2,9,.6,11,0,9,-.3,5,-.7,3,-1],[309,3,13,2,15,.9,11,-.2,5,-.7],
[310,5.8,3,5.2],[310,4,5,3,3,1,5,.3,3,-.8],[312,5.7,3,5],[312,4,3,3],[313,3.7,9,2.7,11,2.4,17,2.1,13,1.5,11,.9,13,.4,9,-.2,7,-.8,5,-1.8,3,-2.4,3,-3.2],[315,6,3,4.6],[315,.3,3,-.5],[316,6,5,5.2],[316,4.5,5,3.5],
[317,4,9,3,15,2.1,13,1,9,.7,11,.3,15,0,11,-.4,7,-.8],[318,2.5,15,1.5,13,.5,9,-.3,5,-1],[318,5.8,3,5.2],[319,4.7,5,3],[320,3,9,2.5,11,1.5,9,.7,5,.2],[321,7.5,3,6.5,5,5.7,3,4.8],[321,4,5,2.5,3,.5],[322,8,3,7,5,5.5,11,4.2,15,2.7,13,2,17,.5,19,0,15,-.1,7,-.7,5,-1.3],[323,3.3,9,2.5,15,1.8,17,1,9,.5,5,-.2],
[324,6,5,5.2],[324,4.8,5,3.3,3,.8,3,-.3],[325,7,3,5.7,3,4.5],[326,7.5,3,6,3,5.2],[326,2.5,5,.8,3,0],[327,7.5,3,6.5,5,5.5,15,3.5,19,2,15,1.5,17,.8,11,0,5,-.7],[328,5.5,9,4,17,2.5,13,1.7,19,.7,15,.3,9,0],[329,4.8,9,3.5,13,2.7,9,1.5,7,.5,3,-.2],[330,8.6,3,7.7,5,6],[330,4.5,5,3.2,3,.5],[331,7,3,5.6],[332,4.8,5,3.5,5,1,3,0],[333,6.2,3,5.2]
];
const decCols=[
[334,3,5,2.6,9,2.1,17,2,19,0,15,-.3,9,-.7],[335,2.7,11,1.8,17,0,19,-.5,13,-.8,7,-1],[336,6,3,5.4],[337,6.6,5,6,15,3.3,15,2.2,19,1.3,7,.9,5,.3],[338,6.8,15,5.2],[338,4,11,2.7,13,1,9,.3,3,-.5],[339,4.8,3,2.3,5,1,3,-.3],[340,5,3,3.5,5,2.4],[341,2.5,3,1,5,0],
[342,-2,3,-3],[343,2.9,9,2.3,15,1.8,17,.4,15,.3,11,-.5,7,-1.2],[344,4,3,3,13,2.7,15,1,19,0,11,-.5,9,-.8,5,-1.2],[345,2.5,17,1.6,19,-.5,17,-1.5,13,-1.9,7,-2.3,5,-3],[346,3,5,2,17,0,9,-.8,5,-1.5,3,-2.2],[347,3.2,9,2.1,13,1.5,13,.5,11,0,9,-.3,5,-.8],
[348,4.5,3,3,5,1.5,3,-.3],[349,3.5,3,2,5,1,3,.3],[351,2,11,1.5,13,.7,5,0,3,-.5],[352,1,5,.2],[353,1.5,3,0],[354,1.6,5,0,3,-.2],[355,1.4,5,.3,3,-.2],[356,.5,3,-.2],[358,1.5,7,1,11,.4,9,.1,3,-.2],[363,-.8,3,-1.5,5,-1.8,7,-2.8,3,-3.8],[363,6,3,5],[364,5.5,5,4.6,3,4]
];
const allCols=[...lightColsA,...lightColsB,...lightColsC,...tealCols,...janCols,...febCols,...marCols,...aprCols,...mayCols,...junCols,...julCols,...augCols,...sepCols,...octCols,...novCols,...decCols];

const monthDays=[0,30.5,58.6,89.6,119.8,150.9,181,212,243,273.3,304.3,334.5];
const monthLabels=['2013/Jan','Fev','Mar','Apr','May','Jun','Jul','Aug','Sep','Oct','Nov','Dec'];
const latTicks=[0,10,20];
const latLabels=['0N','10N','20N'];
const bandEdges=[0,2,4,6,8,10,12,14,16,18,20];
const bandColors=['#b4fbfb','#78b4fa','#3e78fa','#14b0b0','#82fa50','#dcc800','#dc5030','#c80058','#aa0096','#9600d8'];
const coastLat=5;
const watershedLats=[12.29,10.04];

const cells=[];
allCols.forEach(c=>{for(let i=1;i+2<c.length;i+=2)cells.push([c[0],c[i],c[i+2],c[i+1]]);});
const bands=bandColors.map((c,i)=>[bandEdges[i],bandEdges[i+1],i]);

const chart=echarts.init(document.getElementById('c'),null,{renderer:'canvas'});
const vStyle={color:'#1c2a2a',width:1.9,type:'solid'}, hStyle={color:'#1c2a2a',width:1.3,type:'solid'};
const lineSpec=[...monthDays.map(d=>({xAxis:d,lineStyle:vStyle})),...latTicks.map(l=>({yAxis:l,lineStyle:hStyle}))];
chart.setOption({
 animation:false,backgroundColor:'#fff',
 grid:[{left:143,top:21,width:1271,height:636,show:true,backgroundColor:bandColors[0],borderWidth:0},
       {left:1447,top:25,width:49,height:632,show:false}],
 xAxis:[{gridIndex:0,type:'value',min:0,max:365,show:false},{gridIndex:1,type:'value',min:0,max:1,show:false}],
 yAxis:[{gridIndex:0,type:'value',min:-4.86,max:20.68,show:false},
        {gridIndex:1,type:'value',min:0,max:20,interval:2,position:'left',z:6,axisLine:{show:false},splitLine:{show:false},axisLabel:{show:false},axisTick:{show:true,inside:true,length:8,lineStyle:{color:'#000',width:2}}},
        {gridIndex:1,type:'value',min:0,max:20,interval:2,position:'right',z:6,axisLine:{show:false},splitLine:{show:false},axisLabel:{show:false},axisTick:{show:true,inside:true,length:8,lineStyle:{color:'#000',width:2}}}],
 series:[
  {type:'custom',xAxisIndex:0,yAxisIndex:0,silent:true,clip:true,data:cells,dimensions:['day','top','bottom','mm'],encode:{x:0,y:[1,2]},
   renderItem(p,api){
     const a=api.coord([api.value(0),api.value(1)]),b=api.coord([api.value(0)+1,api.value(2)]);
     const mm=api.value(3);
     return {type:'rect',shape:{x:a[0],y:a[1],width:b[0]-a[0],height:b[1]-a[1]},style:{fill:bandColors[Math.floor(mm/2)]}};
   },
   markLine:{silent:true,symbol:'none',z:5,label:{show:false},animation:false,data:lineSpec}},
  {type:'custom',xAxisIndex:1,yAxisIndex:1,silent:true,data:bands,encode:{y:[0,1]},
   renderItem(p,api){
     const a=api.coord([0,api.value(1)]),b=api.coord([1,api.value(0)]);
     return {type:'rect',shape:{x:a[0],y:a[1],width:b[0]-a[0],height:b[1]-a[1]},style:{fill:bandColors[api.value(2)]}};
   }}
 ]
});
const px=v=>chart.convertToPixel({xAxisIndex:0},v), py=v=>chart.convertToPixel({yAxisIndex:0},v), pb=v=>chart.convertToPixel({yAxisIndex:1},v);
const axisFont='31px "Liberation Sans"', ink='#333';
const g=[];
latTicks.forEach((l,i)=>g.push({type:'text',x:134,y:py(l)+5,scaleX:1.27,z:20,style:{text:latLabels[i],font:axisFont,fill:ink,textAlign:'right',textVerticalAlign:'middle'}}));
monthDays.forEach((d,i)=>g.push({type:'group',x:px(d)+4,y:676,scaleX:1.45,z:20,children:[{type:'text',rotation:Math.PI*55/180,z:20,style:{text:monthLabels[i],font:'33px "Liberation Sans"',fill:ink,textAlign:'right',textVerticalAlign:'middle'}}]}));
bandEdges.forEach(v=>g.push({type:'text',x:1505,y:pb(v)+4,scaleX:1.27,z:20,style:{text:v+' mm',font:axisFont,fill:ink,textAlign:'left',textVerticalAlign:'middle'}}));
g.push({type:'rect',z:15,shape:{x:1447,y:pb(20),width:49,height:pb(0)-pb(20)},style:{fill:'none',stroke:'#000',lineWidth:3}});
// coast line, watershed box and their captions
const yC=py(coastLat), yA=py(watershedLats[0]), yB=py(watershedLats[1]);
g.push({type:'rect',z:30,shape:{x:131,y:yC-5.5,width:1287,height:11},style:{fill:'#262626'}});
g.push({type:'rect',z:30,shape:{x:143,y:yA,width:1271,height:yB-yA,r:3},style:{fill:'none',stroke:'#0d0d0d',lineWidth:10}});
const cap=(x,y,w,h,t)=>{g.push({type:'rect',z:31,shape:{x,y,width:w,height:h},style:{fill:'#f2dcdb',stroke:'#111',lineWidth:2.5}});
 g.push({type:'text',z:32,x:x+8,y:y+h/2,style:{text:t,font:'44px Lato',fill:'#000',textAlign:'left',textVerticalAlign:'middle'}});};
cap(142,164,336,59,'Sissili watershed');
cap(142,346,213,58,'Coast line');
chart.setOption({graphic:g});
</script></body></html>
